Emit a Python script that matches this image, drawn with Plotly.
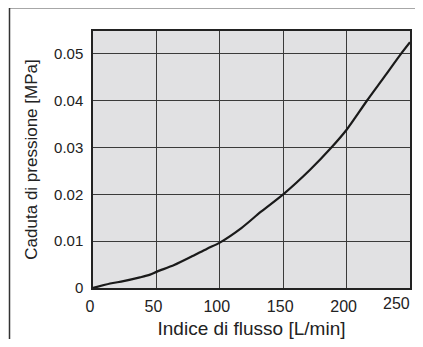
import plotly.graph_objects as go

# Flow rate [L/min] vs pressure drop [MPa]
flow = [0, 13.5, 24, 37, 45, 50.5, 64, 77, 90, 100, 117, 132.5, 150, 171, 188, 200, 216, 230, 242, 250]
drop = [0, 0.00095, 0.00146, 0.00226, 0.00285, 0.0035, 0.0049, 0.0066, 0.0084, 0.0097,
        0.0128, 0.0163, 0.0200, 0.0252, 0.0300, 0.0338, 0.0400, 0.0452, 0.0497, 0.0525]

x_ticks = [0, 50, 100, 150, 200, 250]
x_labels = ["0", "50", "100", "150", "200", "250"]
y_ticks = [0, 0.01, 0.02, 0.03, 0.04, 0.05]
y_labels = ["0", "0.01", "0.02", "0.03", "0.04", "0.05"]

# the page body adds an 8px margin all round, so the figure is shrunk to fit the window
OFF = 8
W, H = 423 - OFF, 347 - 2 * OFF
ml, mt = 93 - OFF, 31 - OFF
mr = W - (410 - OFF)
mb = H - (288 - OFF)
pw, ph = W - ml - mr, H - mt - mb

fig = go.Figure()
fig.add_trace(go.Scatter(x=flow, y=drop, mode="lines",
                         line=dict(color="#1a1a1a", width=2.2, shape="spline", smoothing=0.8),
                         showlegend=False, hoverinfo="skip"))

font = dict(family="Liberation Sans, Arial, sans-serif", color="#222")
fig.update_layout(
    width=W, height=H,
    margin=dict(l=ml, r=mr, t=mt, b=mb, autoexpand=False),
    paper_bgcolor="white", plot_bgcolor="#e1e1e3",
    font=font,
    # last label is drawn as an annotation, right-aligned, so it is not cut off at the page edge
    xaxis=dict(range=[0, 250], tickvals=x_ticks, ticktext=x_labels[:-1] + [""],
               showgrid=True, gridcolor="#3a3a3a", gridwidth=1.2, zeroline=False,
               showline=True, linecolor="#222", linewidth=1.5, mirror=True, ticks="",
               tickfont=dict(size=16), ticklabelstandoff=3, ticklabelshift=-3, automargin=False,
               title=dict(text="Indice di flusso [L/min]", font=dict(size=19), standoff=10)),
    yaxis=dict(range=[0, 0.0549], tickvals=y_ticks, ticktext=y_labels,
               showgrid=True, gridcolor="#3a3a3a", gridwidth=1.2, zeroline=False,
               showline=True, linecolor="#222", linewidth=1.5, mirror=True, ticks="",
               tickfont=dict(size=15), ticklabelstandoff=5, automargin=False,
               title=dict(text="Caduta di pressione [MPa]", font=dict(size=17), standoff=12)),
)

fig.add_annotation(x=x_ticks[-1], y=0, xref="x", yref="y", text=x_labels[-1], showarrow=False,
                   xanchor="right", yanchor="top", xshift=2, yshift=-5,
                   font=dict(size=16, color="#222", family="Liberation Sans, Arial, sans-serif"))

# outer frame lines (top gray, left dark)
def px_x(x):
    return (x - ml) / pw

def px_y(y):
    return 1 - (y - mt) / ph

fig.add_shape(type="line", xref="paper", yref="paper", x0=px_x(1), x1=px_x(W), y0=px_y(0), y1=px_y(0),
              line=dict(color="#8a8a8a", width=1.5))
fig.add_shape(type="line", xref="paper", yref="paper", x0=px_x(1.5), x1=px_x(1.5), y0=px_y(0), y1=px_y(H),
              line=dict(color="#333", width=1.5))

fig.write_html("out.html")
